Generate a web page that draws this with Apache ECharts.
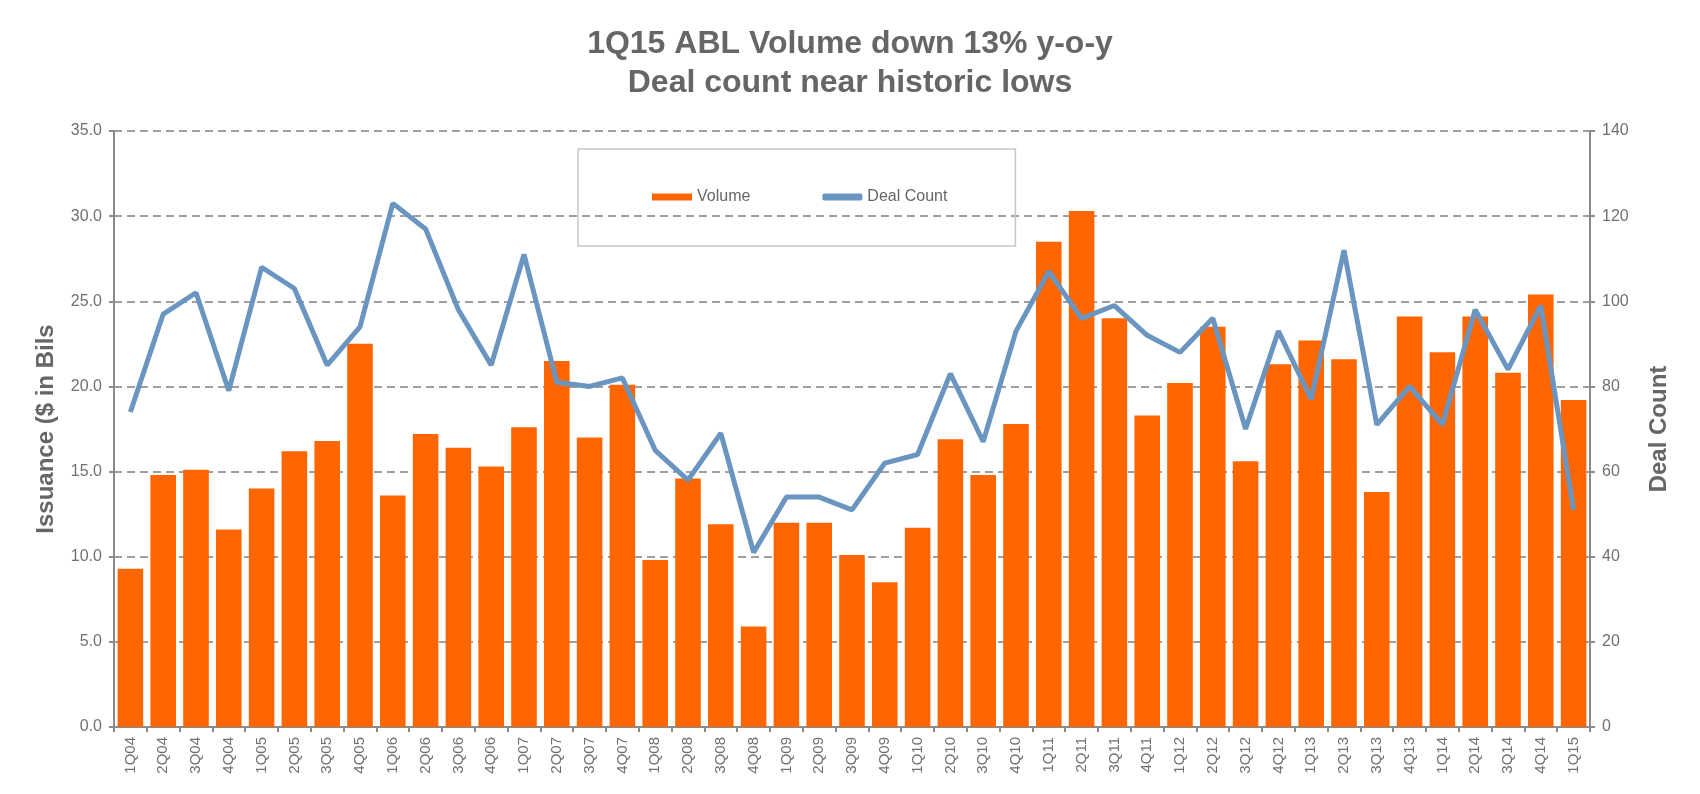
<!DOCTYPE html>
<html>
<head>
<meta charset="utf-8">
<title>ABL Volume</title>
<script src="https://cdn.jsdelivr.net/npm/echarts@6/dist/echarts.min.js"></script>
<style>
  html, body { margin: 0; padding: 0; background: #fff; }
  #chart { width: 1700px; height: 794px; }
</style>
</head>
<body>
<div id="chart"></div>
<script>
const quarters = [
  '1Q04', '2Q04', '3Q04', '4Q04', '1Q05', '2Q05', '3Q05', '4Q05',
  '1Q06', '2Q06', '3Q06', '4Q06', '1Q07', '2Q07', '3Q07', '4Q07',
  '1Q08', '2Q08', '3Q08', '4Q08', '1Q09', '2Q09', '3Q09', '4Q09',
  '1Q10', '2Q10', '3Q10', '4Q10', '1Q11', '2Q11', '3Q11', '4Q11',
  '1Q12', '2Q12', '3Q12', '4Q12', '1Q13', '2Q13', '3Q13', '4Q13',
  '1Q14', '2Q14', '3Q14', '4Q14', '1Q15'
];

// issuance, $ bn
const volume = [
  9.3, 14.8, 15.1, 11.6, 14.0, 16.2, 16.8, 22.5,
  13.6, 17.2, 16.4, 15.3, 17.6, 21.5, 17.0, 20.1,
  9.8, 14.6, 11.9, 5.9, 12.0, 12.0, 10.1, 8.5,
  11.7, 16.9, 14.8, 17.8, 28.5, 30.3, 24.0, 18.3,
  20.2, 23.5, 15.6, 21.3, 22.7, 21.6, 13.8, 24.1,
  22.0, 24.1, 20.8, 25.4, 19.2
];

const dealCount = [
  74, 97, 102, 79, 108, 103, 85, 94,
  123, 117, 98, 85, 111, 81, 80, 82,
  65, 58, 69, 41, 54, 54, 51, 62,
  64, 83, 67, 93, 107, 96, 99, 92,
  88, 96, 70, 93, 77, 112, 71, 80,
  71, 98, 84, 99, 51
];

const titleLines = ['1Q15 ABL Volume down 13% y-o-y', 'Deal count near historic lows'];

const FONT = '"Liberation Sans", Arial, sans-serif';
const GREY = '#666666';
const AXIS = '#8a8a8a';
const BLUE = '#6b95c1';

const chart = echarts.init(document.getElementById('chart'));

chart.setOption({
  animation: false,
  textStyle: { fontFamily: FONT },
  title: {
    text: titleLines.join('\n'),
    left: 'center',
    top: 20,
    textStyle: { fontSize: 32, fontWeight: 'bold', color: GREY, lineHeight: 39, fontFamily: FONT }
  },
  legend: {
    left: 578,
    top: 149,
    padding: [40, 68, 41, 74],
    borderColor: '#c8c8c8',
    borderWidth: 1.5,
    itemWidth: 40,
    itemHeight: 7,
    itemGap: 72,
    textStyle: { fontSize: 16, color: GREY, fontFamily: FONT },
    data: [
      { name: 'Volume', icon: 'rect' },
      { name: 'Deal Count', icon: 'roundRect', itemStyle: { color: BLUE } }
    ]
  },
  grid: { left: 114, right: 110, top: 131, bottom: 67 },
  xAxis: {
    type: 'category',
    data: quarters,
    axisLine: { lineStyle: { color: AXIS, width: 2 } },
    axisTick: { show: true, alignWithLabel: false, length: 5, lineStyle: { color: AXIS, width: 2 } },
    axisLabel: { interval: 0, rotate: 90, margin: 10, fontSize: 15, color: '#707070' }
  },
  yAxis: [
    {
      type: 'value',
      min: 0, max: 35, interval: 5,
      name: 'Issuance ($ in Bils',
      nameLocation: 'middle',
      nameGap: 56,
      nameTextStyle: { fontSize: 24, fontWeight: 'bold', color: GREY },
      axisLine: { show: true, lineStyle: { color: AXIS, width: 2 } },
      axisTick: { show: true, length: 5, lineStyle: { color: AXIS, width: 2 } },
      axisLabel: { fontSize: 16, color: '#707070', margin: 12, formatter: v => v.toFixed(1) },
      splitLine: { show: true, lineStyle: { color: '#808080', width: 1.5, type: [8, 5] } }
    },
    {
      type: 'value',
      min: 0, max: 140, interval: 20,
      name: 'Deal Count',
      nameLocation: 'middle',
      nameGap: 57,
      nameRotate: 90,
      nameTextStyle: { fontSize: 24, fontWeight: 'bold', color: GREY },
      axisLine: { show: true, lineStyle: { color: AXIS, width: 2 } },
      axisTick: { show: true, length: 5, lineStyle: { color: AXIS, width: 2 } },
      axisLabel: { fontSize: 16, color: '#707070', margin: 12 },
      splitLine: { show: false }
    }
  ],
  series: [
    {
      name: 'Volume',
      type: 'bar',
      data: volume,
      barCategoryGap: '22%',
      itemStyle: { color: '#ff6600' }
    },
    {
      name: 'Deal Count',
      type: 'line',
      yAxisIndex: 1,
      data: dealCount,
      symbol: 'none',
      lineStyle: { color: BLUE, width: 5 },
      itemStyle: { color: BLUE }
    }
  ]
});
</script>
</body>
</html>
